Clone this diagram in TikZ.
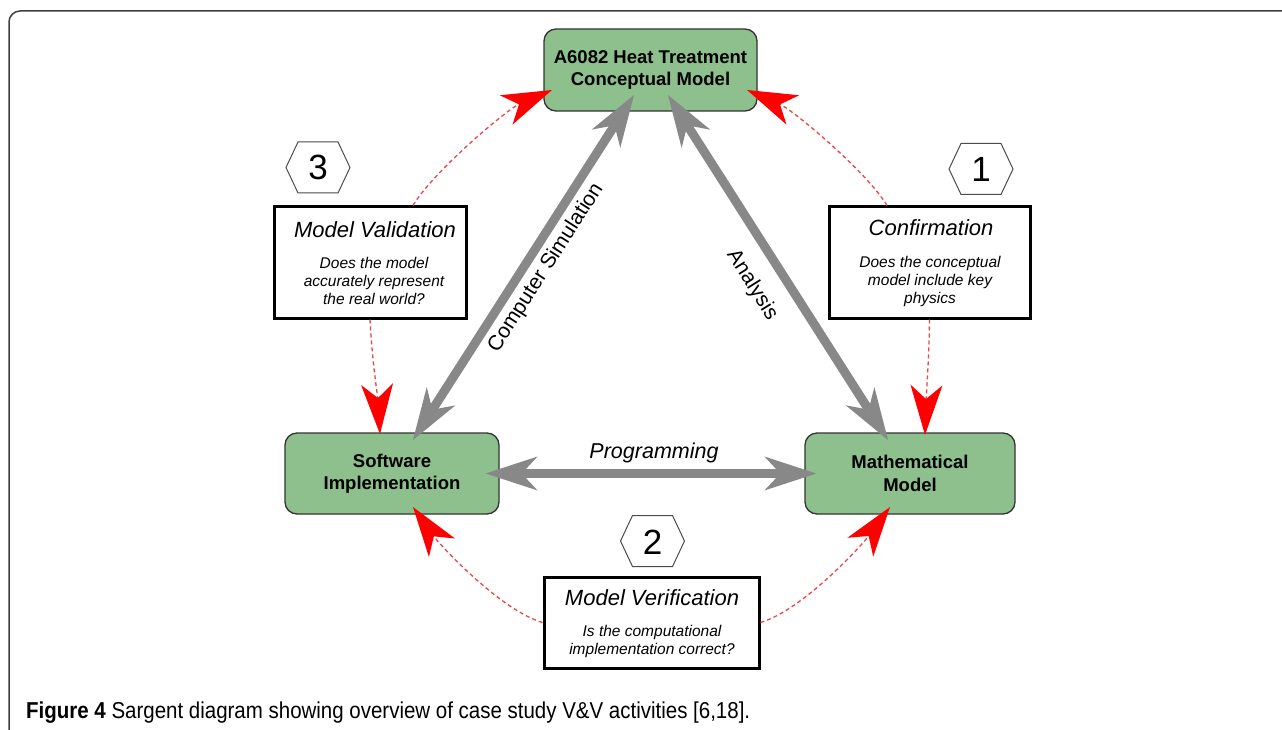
\documentclass[tikz,border=0pt]{standalone}
\usepackage{fontspec}
\usepackage{graphicx}
\setmainfont{Liberation Sans}
\usetikzlibrary{arrows.meta}
\definecolor{boxgreen}{RGB}{141,192,141}
\definecolor{arrgray}{RGB}{136,136,136}
\definecolor{dashred}{RGB}{236,70,70}
\newcommand\myhex[2]{\draw[hexline] (#1-32,#2) -- (#1-20,#2-25.5) -- (#1+20,#2-25.5) -- (#1+32,#2) -- (#1+20,#2+25.5) -- (#1-20,#2+25.5) -- cycle;}
\begin{document}
\begin{tikzpicture}[x=1pt,y=-1pt,
  greenbox/.style={draw=black!80, line width=1.3pt, fill=boxgreen, rounded corners=12pt, align=center,
    font=\fontsize{18.5}{22.5}\selectfont\bfseries, inner sep=0pt},
  qbox/.style={draw=black, line width=3pt, fill=white, inner sep=0pt},
  qtitle/.style={font=\fontsize{22}{26}\selectfont\itshape, anchor=base},
  qbody/.style={font=\fontsize{15.5}{18}\selectfont\itshape, anchor=base},
  numtxt/.style={font=\fontsize{35}{40}\selectfont, anchor=base},
  hexline/.style={draw=black!70, line width=1pt},
  grayarrow/.style={draw=arrgray, line width=9pt,
    {Stealth[length=52pt,width=34pt,inset=16pt,line width=0pt]}-{Stealth[length=52pt,width=34pt,inset=16pt,line width=0pt]}},
  redarrow/.style={draw=dashred, line width=1.3pt, dash pattern=on 4pt off 3pt,
    -{Stealth[length=50pt,width=32pt,inset=14pt,line width=0pt,color=red,fill=red]}},
  lbl/.style={font=\fontsize{21}{25}\selectfont}
]
\useasboundingbox (0,0) rectangle (1282,730);
\fill[white] (0,0) rectangle (1282,730);
\draw[line width=1.5pt, black!75, rounded corners=11pt] (9,740) -- (9,11) -- (1295,11);

% main boxes
\node[greenbox, minimum width=213pt, minimum height=82pt] (top) at (650.5,70) {\raisebox{-2pt}{A6082 Heat Treatment}\\\raisebox{-2pt}{Conceptual Model}};
\node[greenbox, minimum width=214pt, minimum height=81pt] (sw) at (392,473.5) {Software\\Implementation};
\node[greenbox, minimum width=210pt, minimum height=81pt] (mm) at (910,473.5) {Mathematical\\Model};

% question boxes
\node[qbox, minimum width=192pt, minimum height=111pt] (val) at (370,262.5) {};
\node[qtitle] (valt) at (375,237) {Model Validation};
\node[qbody] (valb1) at (374,268) {Does the model};
\node[qbody] (valb2) at (374,286) {accurately represent};
\node[qbody] (valb3) at (374,304) {the real world?};

\node[qbox, minimum width=201pt, minimum height=111pt] (conf) at (929.5,262.5) {};
\node[qtitle] (conft) at (931,236) {Confirmation};
\node[qbody] (confb1) at (930,267) {Does the conceptual};
\node[qbody] (confb2) at (930,285) {model include key};
\node[qbody] (confb3) at (930,303) {physics};

\node[qbox, minimum width=215pt, minimum height=91pt] (ver) at (651.5,622.5) {};
\node[qtitle] (vert) at (652,605) {Model Verification};
\node[qbody] (verb1) at (652,636) {Is the computational};
\node[qbody] (verb2) at (652,654) {implementation correct?};

% hexagons
\myhex{318}{167.5}
\node[numtxt] (n3) at (318,180) {3};
\myhex{981}{169}
\node[numtxt] (n1) at (981,182) {1};
\myhex{652.5}{541}
\node[numtxt] (n2) at (652.5,554) {2};

% gray arrows
\coordinate (t1) at (634,95);
\coordinate (s1) at (413,440);
\coordinate (t2) at (668,95);
\coordinate (m1) at (888,440);
\draw[grayarrow] (t1) -- (s1);
\draw[grayarrow] (t2) -- (m1);
\draw[grayarrow, shorten <=-14pt, shorten >=-12pt] (sw.east) -- (mm.west);

\node[lbl, rotate=57.4] (cs) at (546,268) {Computer Simulation};
\node[lbl, rotate=-58] (an) at (752,285) {Analysis};
\node[lbl, font=\fontsize{21.5}{25}\selectfont\itshape] (pr) at (654,453) {Programming};

% red dashed arrows
\coordinate (r1) at (552,90);
\coordinate (r2) at (747,90);
\coordinate (r3) at (380,434);
\coordinate (r4) at (925,435);
\coordinate (r5) at (413,507);
\coordinate (r6) at (890,507);
\draw[redarrow] (val.north -| 413,0) .. controls (433,172) and (506,110) .. (r1);
\draw[redarrow] (conf.north -| 887,0) .. controls (867,172) and (793,110) .. (r2);
\draw[redarrow] (val.south) .. controls (372,360) and (378,400) .. (r3);
\draw[redarrow] (conf.south) .. controls (929,360) and (926,400) .. (r4);
\draw[redarrow] (ver.west) .. controls (500,610) and (440,545) .. (r5);
\draw[redarrow] (ver.east) .. controls (803,610) and (862,545) .. (r6);

% caption
\node[anchor=base west, inner sep=0pt] (cap) at (26,718) {\resizebox{724pt}{\height}{\fontsize{23}{27}\selectfont\textbf{Figure 4} Sargent diagram showing overview of case study V\&V activities [6,18].}};
\end{tikzpicture}
\end{document}
